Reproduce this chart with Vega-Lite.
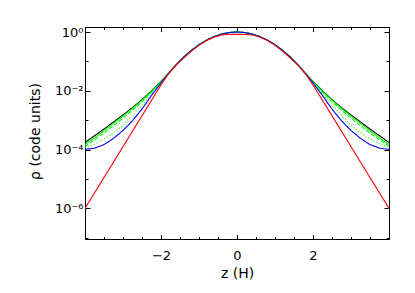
{
  "$schema": "https://vega.github.io/schema/vega-lite/v6.json",
  "width": 304,
  "height": 212,
  "autosize": "none",
  "padding": {"left": 85, "top": 27, "right": 26, "bottom": 54},
  "background": "white",
  "config": {
    "view": {"stroke": "black", "strokeWidth": 1},
    "font": "DejaVu Sans"
  },
  "data": {"values": [
    {"s":"black","z":-4,"rho":0.000174},{"s":"black","z":-3.75,"rho":0.000295},{"s":"black","z":-3.5,"rho":0.000501},{"s":"black","z":-3.25,"rho":0.000871},{"s":"black","z":-3,"rho":0.00151},{"s":"black","z":-2.75,"rho":0.00269},{"s":"black","z":-2.5,"rho":0.00501},{"s":"black","z":-2.25,"rho":0.01},{"s":"black","z":-2,"rho":0.0209},
    {"s":"black","z":-1.8,"rho":0.0392},{"s":"black","z":-1.6,"rho":0.0773},{"s":"black","z":-1.4,"rho":0.1409},{"s":"black","z":-1.2,"rho":0.2369},{"s":"black","z":-1,"rho":0.3679},{"s":"black","z":-0.8,"rho":0.5273},{"s":"black","z":-0.6,"rho":0.6977},{"s":"black","z":-0.4,"rho":0.8521},{"s":"black","z":-0.2,"rho":0.9608},{"s":"black","z":0,"rho":1},{"s":"black","z":0.2,"rho":0.9608},{"s":"black","z":0.4,"rho":0.8521},{"s":"black","z":0.6,"rho":0.6977},{"s":"black","z":0.8,"rho":0.5273},{"s":"black","z":1,"rho":0.3679},{"s":"black","z":1.2,"rho":0.2369},{"s":"black","z":1.4,"rho":0.1409},{"s":"black","z":1.6,"rho":0.0773},{"s":"black","z":1.8,"rho":0.0392},
    {"s":"black","z":2,"rho":0.0209},{"s":"black","z":2.25,"rho":0.01},{"s":"black","z":2.5,"rho":0.00501},{"s":"black","z":2.75,"rho":0.00269},{"s":"black","z":3,"rho":0.00151},{"s":"black","z":3.25,"rho":0.000871},{"s":"black","z":3.5,"rho":0.000501},{"s":"black","z":3.75,"rho":0.000295},{"s":"black","z":4,"rho":0.000174},

    {"s":"green","z":-4,"rho":0.000148},{"s":"green","z":-3.75,"rho":0.000251},{"s":"green","z":-3.5,"rho":0.000437},{"s":"green","z":-3.25,"rho":0.000776},{"s":"green","z":-3,"rho":0.00138},{"s":"green","z":-2.75,"rho":0.00251},{"s":"green","z":-2.5,"rho":0.00479},{"s":"green","z":-2.25,"rho":0.00955},{"s":"green","z":-2,"rho":0.0204},
    {"s":"green","z":-1.8,"rho":0.0392},{"s":"green","z":-1.6,"rho":0.0773},{"s":"green","z":-1.4,"rho":0.1409},{"s":"green","z":-1.2,"rho":0.2369},{"s":"green","z":-1,"rho":0.3679},{"s":"green","z":-0.8,"rho":0.5273},{"s":"green","z":-0.6,"rho":0.6977},{"s":"green","z":-0.4,"rho":0.8521},{"s":"green","z":-0.2,"rho":0.9608},{"s":"green","z":0,"rho":1},{"s":"green","z":0.2,"rho":0.9608},{"s":"green","z":0.4,"rho":0.8521},{"s":"green","z":0.6,"rho":0.6977},{"s":"green","z":0.8,"rho":0.5273},{"s":"green","z":1,"rho":0.3679},{"s":"green","z":1.2,"rho":0.2369},{"s":"green","z":1.4,"rho":0.1409},{"s":"green","z":1.6,"rho":0.0773},{"s":"green","z":1.8,"rho":0.0392},
    {"s":"green","z":2,"rho":0.0204},{"s":"green","z":2.25,"rho":0.00955},{"s":"green","z":2.5,"rho":0.00479},{"s":"green","z":2.75,"rho":0.00251},{"s":"green","z":3,"rho":0.00138},{"s":"green","z":3.25,"rho":0.000776},{"s":"green","z":3.5,"rho":0.000437},{"s":"green","z":3.75,"rho":0.000251},{"s":"green","z":4,"rho":0.000148},

    {"s":"green dashed","z":-4,"rho":0.000129},{"s":"green dashed","z":-3.75,"rho":0.000214},{"s":"green dashed","z":-3.5,"rho":0.000363},{"s":"green dashed","z":-3.25,"rho":0.000646},{"s":"green dashed","z":-3,"rho":0.00117},{"s":"green dashed","z":-2.75,"rho":0.00219},{"s":"green dashed","z":-2.5,"rho":0.00427},{"s":"green dashed","z":-2.25,"rho":0.00891},{"s":"green dashed","z":-2,"rho":0.01995},
    {"s":"green dashed","z":-1.8,"rho":0.0392},{"s":"green dashed","z":-1.6,"rho":0.0773},{"s":"green dashed","z":-1.4,"rho":0.1409},{"s":"green dashed","z":-1.2,"rho":0.2369},{"s":"green dashed","z":-1,"rho":0.3679},{"s":"green dashed","z":-0.8,"rho":0.5273},{"s":"green dashed","z":-0.6,"rho":0.6977},{"s":"green dashed","z":-0.4,"rho":0.8521},{"s":"green dashed","z":-0.2,"rho":0.9608},{"s":"green dashed","z":0,"rho":1},{"s":"green dashed","z":0.2,"rho":0.9608},{"s":"green dashed","z":0.4,"rho":0.8521},{"s":"green dashed","z":0.6,"rho":0.6977},{"s":"green dashed","z":0.8,"rho":0.5273},{"s":"green dashed","z":1,"rho":0.3679},{"s":"green dashed","z":1.2,"rho":0.2369},{"s":"green dashed","z":1.4,"rho":0.1409},{"s":"green dashed","z":1.6,"rho":0.0773},{"s":"green dashed","z":1.8,"rho":0.0392},
    {"s":"green dashed","z":2,"rho":0.01995},{"s":"green dashed","z":2.25,"rho":0.00891},{"s":"green dashed","z":2.5,"rho":0.00427},{"s":"green dashed","z":2.75,"rho":0.00219},{"s":"green dashed","z":3,"rho":0.00117},{"s":"green dashed","z":3.25,"rho":0.000646},{"s":"green dashed","z":3.5,"rho":0.000363},{"s":"green dashed","z":3.75,"rho":0.000214},{"s":"green dashed","z":4,"rho":0.000129},

    {"s":"green dotted","z":-4,"rho":0.000117},{"s":"green dotted","z":-3.75,"rho":0.000155},{"s":"green dotted","z":-3.5,"rho":0.000234},{"s":"green dotted","z":-3.25,"rho":0.000372},{"s":"green dotted","z":-3,"rho":0.000676},{"s":"green dotted","z":-2.75,"rho":0.00148},{"s":"green dotted","z":-2.5,"rho":0.00331},{"s":"green dotted","z":-2.25,"rho":0.00759},{"s":"green dotted","z":-2,"rho":0.01905},
    {"s":"green dotted","z":-1.8,"rho":0.0392},{"s":"green dotted","z":-1.6,"rho":0.0773},{"s":"green dotted","z":-1.4,"rho":0.1409},{"s":"green dotted","z":-1.2,"rho":0.2369},{"s":"green dotted","z":-1,"rho":0.3679},{"s":"green dotted","z":-0.8,"rho":0.5273},{"s":"green dotted","z":-0.6,"rho":0.6977},{"s":"green dotted","z":-0.4,"rho":0.8521},{"s":"green dotted","z":-0.2,"rho":0.9608},{"s":"green dotted","z":0,"rho":1},{"s":"green dotted","z":0.2,"rho":0.9608},{"s":"green dotted","z":0.4,"rho":0.8521},{"s":"green dotted","z":0.6,"rho":0.6977},{"s":"green dotted","z":0.8,"rho":0.5273},{"s":"green dotted","z":1,"rho":0.3679},{"s":"green dotted","z":1.2,"rho":0.2369},{"s":"green dotted","z":1.4,"rho":0.1409},{"s":"green dotted","z":1.6,"rho":0.0773},{"s":"green dotted","z":1.8,"rho":0.0392},
    {"s":"green dotted","z":2,"rho":0.01905},{"s":"green dotted","z":2.25,"rho":0.00759},{"s":"green dotted","z":2.5,"rho":0.00331},{"s":"green dotted","z":2.75,"rho":0.00148},{"s":"green dotted","z":3,"rho":0.000676},{"s":"green dotted","z":3.25,"rho":0.000372},{"s":"green dotted","z":3.5,"rho":0.000234},{"s":"green dotted","z":3.75,"rho":0.000155},{"s":"green dotted","z":4,"rho":0.000117},

    {"s":"blue","z":-4,"rho":0.000102},{"s":"blue","z":-3.75,"rho":0.000112},{"s":"blue","z":-3.5,"rho":0.000148},{"s":"blue","z":-3.25,"rho":0.00024},{"s":"blue","z":-3,"rho":0.000447},{"s":"blue","z":-2.75,"rho":0.000955},{"s":"blue","z":-2.5,"rho":0.0024},{"s":"blue","z":-2.25,"rho":0.00692},{"s":"blue","z":-2,"rho":0.01862},
    {"s":"blue","z":-1.8,"rho":0.0392},{"s":"blue","z":-1.6,"rho":0.0773},{"s":"blue","z":-1.4,"rho":0.1409},{"s":"blue","z":-1.2,"rho":0.2369},{"s":"blue","z":-1,"rho":0.3679},{"s":"blue","z":-0.8,"rho":0.5273},{"s":"blue","z":-0.6,"rho":0.6977},{"s":"blue","z":-0.4,"rho":0.8521},{"s":"blue","z":-0.2,"rho":0.9608},{"s":"blue","z":0,"rho":1},{"s":"blue","z":0.2,"rho":0.9608},{"s":"blue","z":0.4,"rho":0.8521},{"s":"blue","z":0.6,"rho":0.6977},{"s":"blue","z":0.8,"rho":0.5273},{"s":"blue","z":1,"rho":0.3679},{"s":"blue","z":1.2,"rho":0.2369},{"s":"blue","z":1.4,"rho":0.1409},{"s":"blue","z":1.6,"rho":0.0773},{"s":"blue","z":1.8,"rho":0.0392},
    {"s":"blue","z":2,"rho":0.01862},{"s":"blue","z":2.25,"rho":0.00692},{"s":"blue","z":2.5,"rho":0.0024},{"s":"blue","z":2.75,"rho":0.000955},{"s":"blue","z":3,"rho":0.000447},{"s":"blue","z":3.25,"rho":0.00024},{"s":"blue","z":3.5,"rho":0.000148},{"s":"blue","z":3.75,"rho":0.000112},{"s":"blue","z":4,"rho":0.000102},

    {"s":"red","z":-4,"rho":0.000001},{"s":"red","z":-3.5,"rho":0.00001122},{"s":"red","z":-3,"rho":0.0001259},{"s":"red","z":-2.5,"rho":0.001413},{"s":"red","z":-2,"rho":0.01585},{"s":"red","z":-1.8,"rho":0.03802},{"s":"red","z":-1.6,"rho":0.07586},{"s":"red","z":-1.4,"rho":0.1318},{"s":"red","z":-1.2,"rho":0.2239},{"s":"red","z":-1,"rho":0.3548},{"s":"red","z":-0.8,"rho":0.5129},{"s":"red","z":-0.6,"rho":0.6761},{"s":"red","z":-0.4,"rho":0.7943},{"s":"red","z":-0.2,"rho":0.8299},{"s":"red","z":0,"rho":0.8318},{"s":"red","z":0.2,"rho":0.8299},{"s":"red","z":0.4,"rho":0.7943},{"s":"red","z":0.6,"rho":0.6761},{"s":"red","z":0.8,"rho":0.5129},{"s":"red","z":1,"rho":0.3548},{"s":"red","z":1.2,"rho":0.2239},{"s":"red","z":1.4,"rho":0.1318},{"s":"red","z":1.6,"rho":0.07586},{"s":"red","z":1.8,"rho":0.03802},{"s":"red","z":2,"rho":0.01585},{"s":"red","z":2.5,"rho":0.001413},{"s":"red","z":3,"rho":0.0001259},{"s":"red","z":3.5,"rho":0.00001122},{"s":"red","z":4,"rho":0.000001}
  ]},
  "layer": [
    {
      "mark": {"type": "line", "strokeWidth": 1.1, "clip": true},
      "encoding": {
        "x": {
          "field": "z", "type": "quantitative",
          "scale": {"domain": [-4, 4], "nice": false, "zero": false},
          "axis": {
            "orient": "bottom",
            "title": "z (H)",
            "titleFont": "DejaVu Sans", "titleFontSize": 14, "titleFontWeight": "normal", "titleColor": "black",
            "titleBaseline": "middle", "titleY": 34,
            "values": [-3.5, -3, -2.5, -2, -1.5, -1, -0.5, 0, 0.5, 1, 1.5, 2, 2.5, 3, 3.5],
            "labelExpr": "datum.value == 0 ? '0' : (abs(datum.value) % 2 == 0 ? (datum.value < 0 ? '\u2212' + abs(datum.value) : '' + datum.value) : '')",
            "labelFont": "DejaVu Sans", "labelFontSize": 13, "labelColor": "black",
            "labelPadding": 15,
            "tickSize": {"condition": {"test": "abs(datum.value) % 2 == 0", "value": -4.5}, "value": -2.5},
            "tickColor": "black", "domainColor": "black", "grid": false
          }
        },
        "y": {
          "field": "rho", "type": "quantitative",
          "scale": {"type": "log", "domain": [9.1e-8, 1.48], "nice": false},
          "axis": {
            "orient": "left",
            "title": "ρ (code units)",
            "titleFont": "DejaVu Sans", "titleFontSize": 14, "titleFontWeight": "normal", "titleColor": "black",
            "titleX": -50, "titleY": 104, "titleBaseline": "middle", "titleAngle": -90,
            "values": [1e-7, 1e-6, 1e-5, 1e-4, 1e-3, 1e-2, 1e-1, 1],
            "labelExpr": "round(log(datum.value)/LN10) == 0 ? '10⁰' : round(log(datum.value)/LN10) == -2 ? '10⁻²' : round(log(datum.value)/LN10) == -4 ? '10⁻⁴' : round(log(datum.value)/LN10) == -6 ? '10⁻⁶' : ''",
            "labelFont": "DejaVu Sans", "labelFontSize": 13, "labelColor": "black",
            "labelPadding": 7,
            "tickSize": {"condition": {"test": "abs(round(log(datum.value)/LN10)) % 2 == 0", "value": -5}, "value": -3},
            "tickColor": "black", "domainColor": "black", "grid": false
          }
        },
        "color": {
          "field": "s", "type": "nominal", "legend": null,
          "scale": {"domain": ["black", "green", "green dashed", "green dotted", "blue", "red"], "range": ["#000000", "#00ff00", "#00ff00", "#00ff00", "#0000ff", "#ff0000"]}
        },
        "strokeDash": {
          "field": "s", "type": "nominal", "legend": null,
          "scale": {"domain": ["black", "green", "green dashed", "green dotted", "blue", "red"], "range": [[1, 0], [1, 0], [4, 2], [1, 2], [1, 0], [1, 0]]}
        }
      }
    },
    {
      "mark": {"type": "point", "opacity": 0},
      "encoding": {
        "x": {
          "field": "z", "type": "quantitative",
          "axis": {
            "orient": "top", "title": null, "labels": false, "grid": false,
            "values": [-3.5, -3, -2.5, -2, -1.5, -1, -0.5, 0, 0.5, 1, 1.5, 2, 2.5, 3, 3.5],
            "tickSize": {"condition": {"test": "abs(datum.value) % 2 == 0", "value": -4.5}, "value": -2.5},
            "tickColor": "black", "domainColor": "black"
          }
        },
        "y": {
          "field": "rho", "type": "quantitative",
          "axis": {
            "orient": "right", "title": null, "labels": false, "grid": false,
            "values": [1e-7, 1e-6, 1e-5, 1e-4, 1e-3, 1e-2, 1e-1, 1],
            "tickSize": {"condition": {"test": "abs(round(log(datum.value)/LN10)) % 2 == 0", "value": -5}, "value": -3},
            "tickColor": "black", "domainColor": "black"
          }
        }
      }
    }
  ],
  "resolve": {"axis": {"x": "independent", "y": "independent"}}
}
